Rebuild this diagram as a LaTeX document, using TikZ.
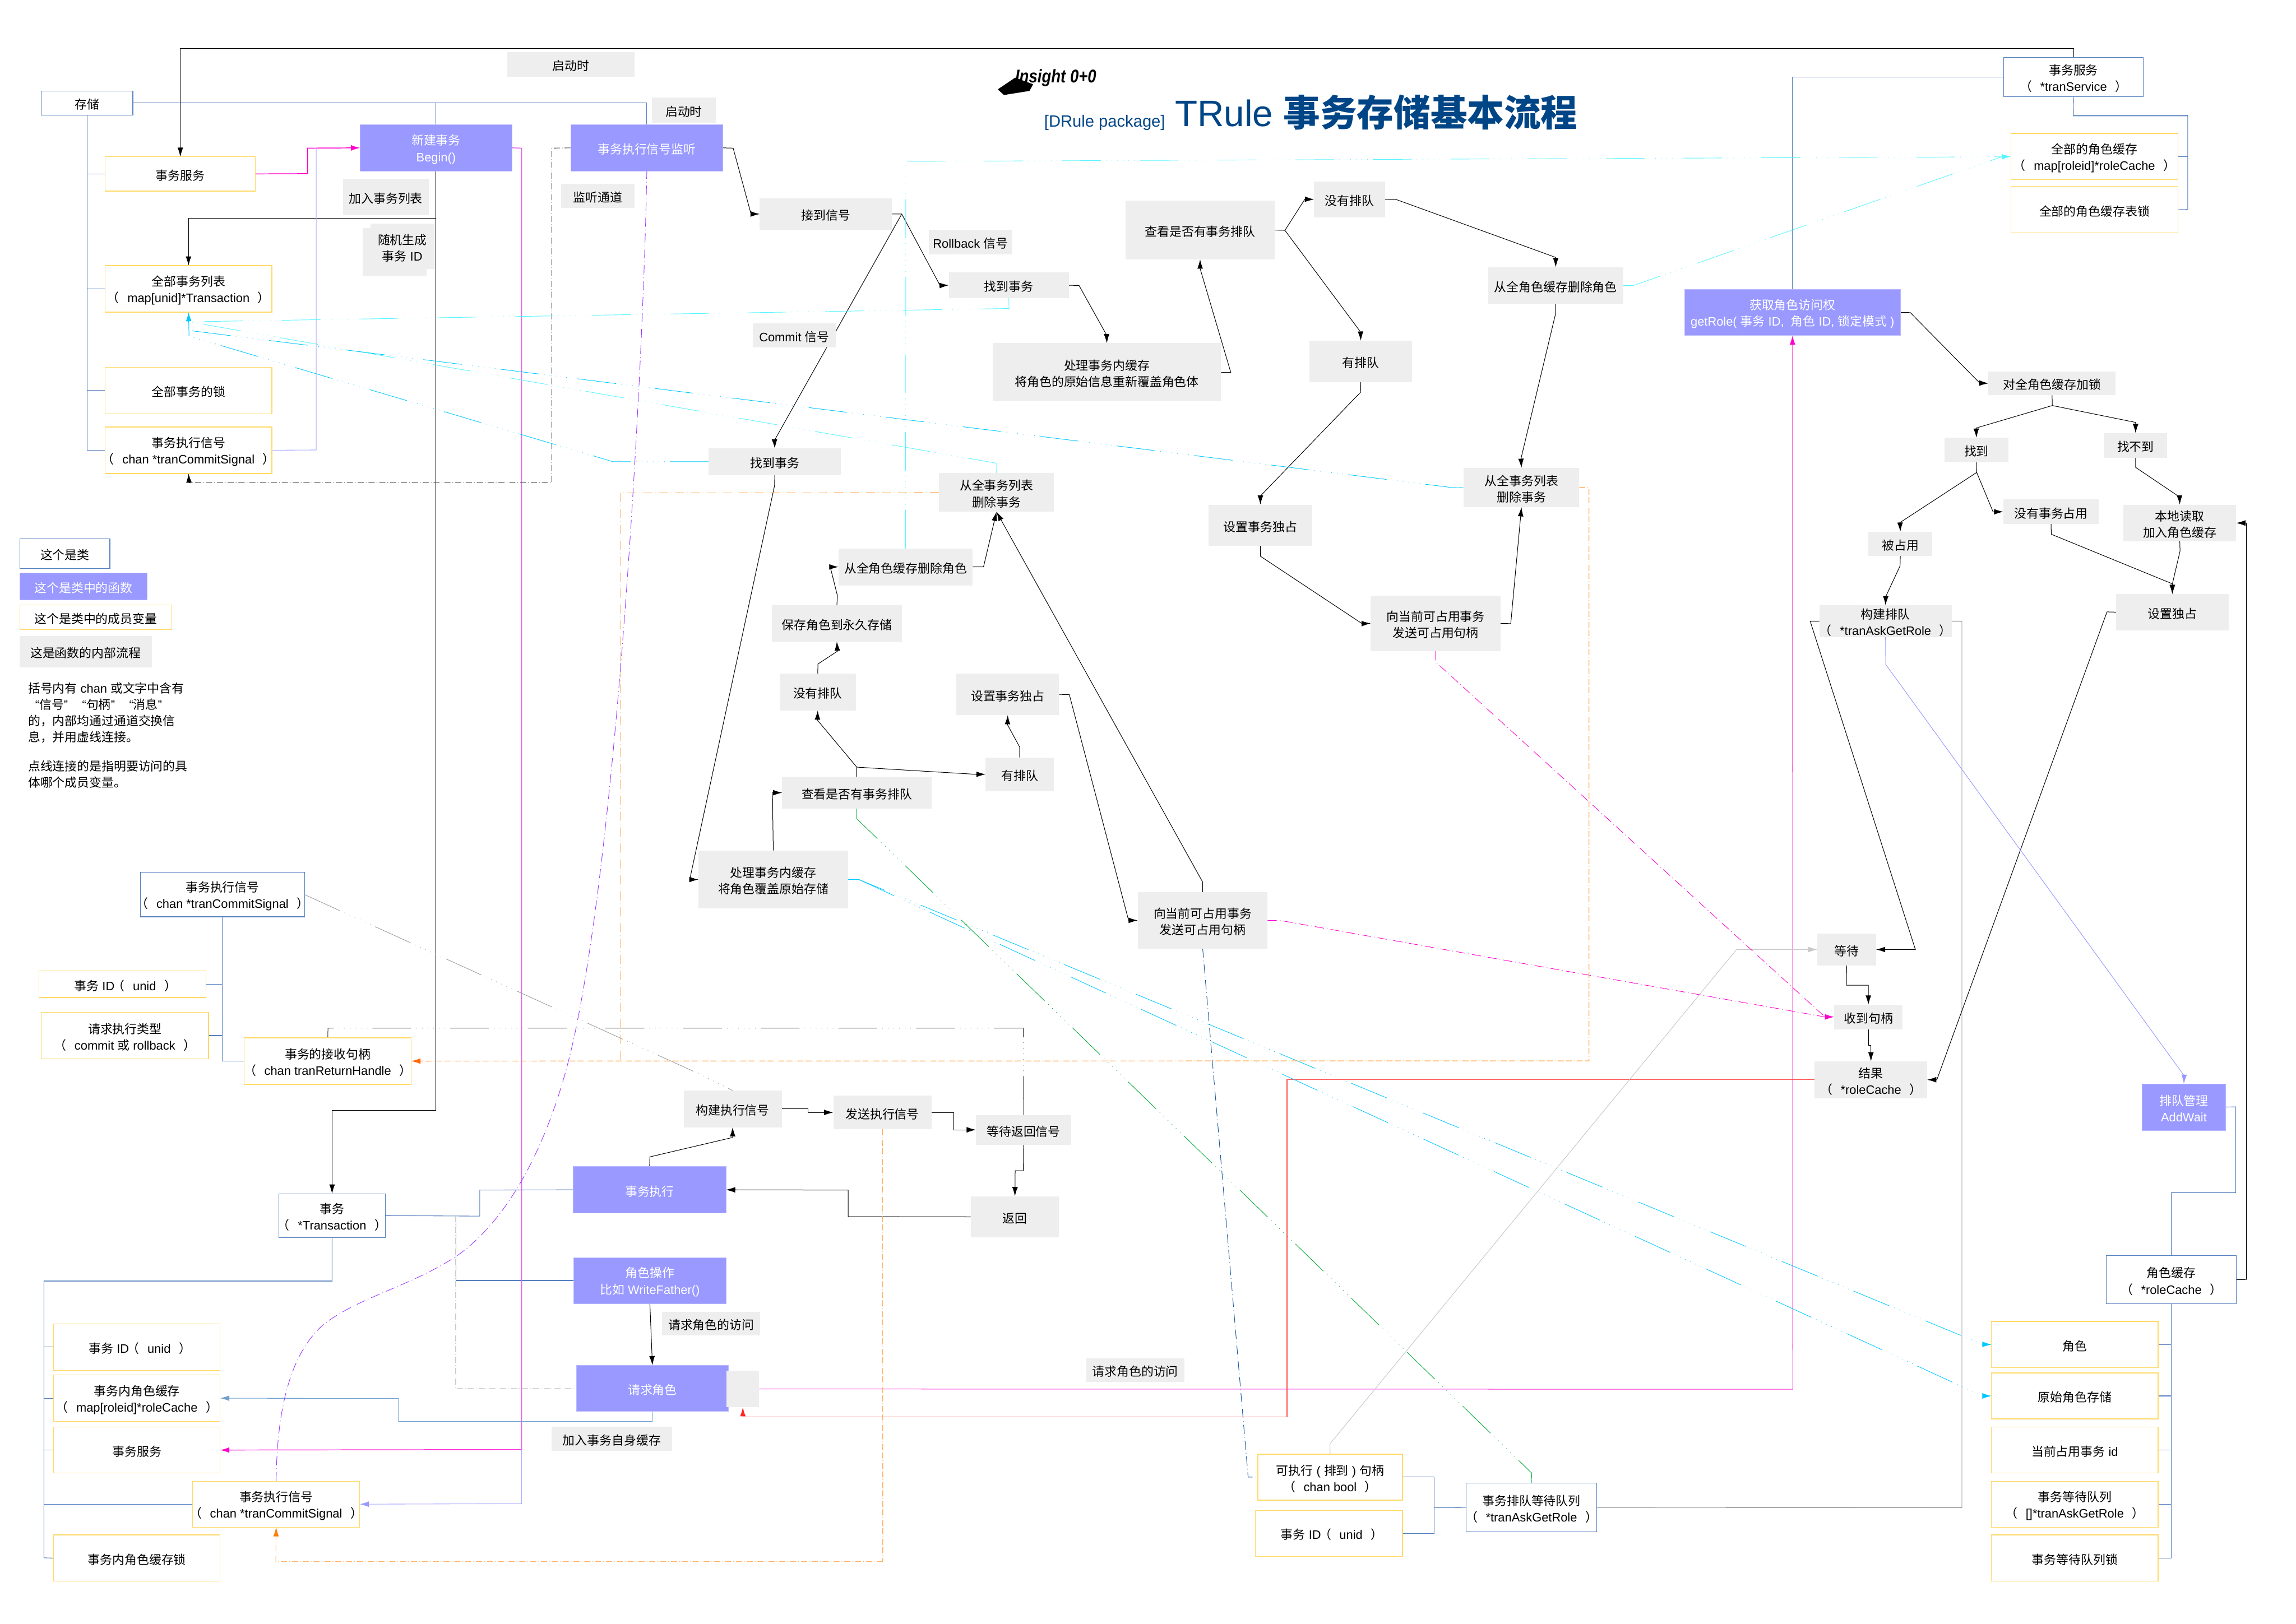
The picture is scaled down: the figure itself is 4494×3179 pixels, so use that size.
\documentclass[tikz,border=0pt]{standalone}
\usepackage{fontspec}
\usepackage{graphicx}
\setmainfont{Noto Sans CJK SC}
\newfontfamily\latf{Liberation Sans}
\usetikzlibrary{arrows.meta}
\pgfdeclarelayer{bg}
\pgfsetlayers{bg,main}
\definecolor{boxgray}{HTML}{EEEEEE}
\definecolor{ybord}{HTML}{FFD966}
\definecolor{bbord}{HTML}{5580BF}
\definecolor{pur}{HTML}{9999FF}
\definecolor{cyanL}{HTML}{55F5FF}
\definecolor{cyanB}{HTML}{00C8FF}
\definecolor{grn}{HTML}{00A933}
\definecolor{orgL}{HTML}{FFB366}
\definecolor{orgH}{HTML}{FF8000}
\definecolor{orgR}{HTML}{FF6600}
\definecolor{purc}{HTML}{9933FF}
\definecolor{pinkL}{HTML}{E060E0}
\definecolor{mag}{HTML}{FF00CC}
\definecolor{blL}{HTML}{729FCF}
\definecolor{redL}{HTML}{FF5050}
\definecolor{dkblue}{HTML}{1C5AA0}
\definecolor{titleb}{HTML}{004586}
\newcommand\ltn[1]{{\latf #1}}
\newcommand\pn[1]{\mbox{\kern-6pt（\kern8pt{\latf #1}\kern8pt）\kern-6pt}}
\newcommand\bx[7]{%
  \pgfmathsetmacro\bxCx{(#3+#5)/2}%
  \pgfmathsetmacro\bxCy{(#4+#6)/2}%
  \pgfmathsetmacro\bxW{(#5-#3)*0.5}%
  \pgfmathsetmacro\bxH{(#6-#4)*0.5}%
  \node[#1,minimum width=\bxW pt,minimum height=\bxH pt] (#2) at (\bxCx,\bxCy) {\rule{0pt}{13pt}#7};}
\tikzset{
  every node/.style={inner sep=0pt,outer sep=0pt,align=center,font=\fontsize{12}{16}\selectfont},
  gbox/.style={fill=boxgray,text=black},
  ybox/.style={draw=ybord,line width=.7pt,fill=white,text=black},
  bbox/.style={draw=bbord,line width=.6pt,fill=white,text=black},
  pbox/.style={fill=pur,draw=pur!70!white,line width=.4pt,text=white},
  conn/.style={draw=black,line width=.55pt},
  arr/.style={-{Latex[length=9pt,width=5.5pt]}},
  bl/.style={draw=bbord,line width=.6pt},
  lddot/.style={dash pattern=on 38pt off 5pt on .5pt off 5pt on .5pt off 5pt on .5pt off 5pt on .5pt off 5pt on .5pt off 5pt on .5pt off 5pt},
  sddot/.style={dash pattern=on 9pt off 3pt on .6pt off 3pt},
  gddot/.style={dash pattern=on 6pt off 2pt on .6pt off 2pt},
  oddot/.style={dash pattern=on 6pt off 2pt on .6pt off 2pt on 6pt off 2pt},
}
\begin{document}
\begin{tikzpicture}[x=.5pt,y=-.5pt]
\useasboundingbox (0,0) rectangle (4494,3179);
% ---- title
\fill[black] (1953,175) -- (1987,152) -- (2022,165) -- (2015,178) -- (1965,186) -- cycle;
\node[anchor=base west] (insight) at (1987,162) {\scalebox{.84}[1]{\fontsize{18}{18}\selectfont\latf\bfseries\itshape Insight 0+0}};
\node[anchor=base west,text=titleb] (pkg) at (2044,249) {\fontsize{16}{16}\selectfont\latf [DRule package]};
\node[anchor=base west,text=titleb] (title) at (2300,247) {\fontsize{36}{36}\selectfont{\latf TRule }{\bfseries 事务存储基本流程}};
% ---- left top
\bx{bbox}{store}{81}{178}{260}{225}{存储}
\bx{ybox}{tsvc}{206}{307}{500}{374}{事务服务}
\bx{pbox}{begin}{705}{244}{1002}{335}{新建事务\\\ltn{Begin()}}
\bx{gbox}{addlist}{671}{350}{839}{421}{加入事务列表}
\bx{gbox}{randb}{710}{446}{835}{541}{}
\bx{gbox}{rand}{725}{438}{850}{527}{随机生成\\事务\ltn{ ID}}
\bx{ybox}{alltx}{206}{520}{532}{611}{全部事务列表\\\pn{map[unid]*Transaction}}
\bx{ybox}{alllock}{206}{719}{532}{810}{全部事务的锁}
\bx{ybox}{allsig}{206}{836}{532}{927}{事务执行信号\\\pn{chan *tranCommitSignal}}
\bx{gbox}{start1}{993}{102}{1242}{150}{启动时}
\bx{gbox}{start2}{1276}{191}{1401}{240}{启动时}
\bx{pbox}{listen}{1117}{244}{1415}{335}{事务执行信号监听}
\bx{gbox}{lchan}{1098}{360}{1242}{407}{监听通道}
\bx{gbox}{recv}{1487}{388}{1746}{450}{接到信号}
\bx{gbox}{rollback}{1818}{450}{1981}{498}{\ltn{Rollback }信号}
\bx{gbox}{find1}{1857}{533}{2092}{584}{找到事务}
\bx{gbox}{commit}{1473}{633}{1636}{680}{\ltn{Commit }信号}
\bx{gbox}{find2}{1387}{878}{1646}{930}{找到事务}
\bx{gbox}{proc1}{1943}{672}{2390}{786}{处理事务内缓存\\将角色的原始信息重新覆盖角色体}
\bx{gbox}{del1}{1838}{926}{2063}{1002}{从全事务列表\\删除事务}
\bx{gbox}{chk1}{2203}{393}{2495}{508}{查看是否有事务排队}
\bx{gbox}{noq1}{2572}{355}{2711}{426}{没有排队}
\bx{gbox}{hasq1}{2563}{667}{2764}{748}{有排队}
\bx{gbox}{delrole1}{2913}{523}{3177}{595}{从全角色缓存删除角色}
\bx{gbox}{del2}{2865}{916}{3091}{993}{从全事务列表\\删除事务}
\bx{gbox}{setx1}{2366}{988}{2568}{1069}{设置事务独占}
\bx{gbox}{send1}{2683}{1166}{2937}{1275}{向当前可占用事务\\发送可占用句柄}
\bx{gbox}{delrole2}{1641}{1074}{1904}{1146}{从全角色缓存删除角色}
\bx{gbox}{save}{1511}{1185}{1765}{1256}{保存角色到永久存储}
\bx{gbox}{noq2}{1526}{1319}{1675}{1391}{没有排队}
\bx{gbox}{setx2}{1872}{1319}{2073}{1400}{设置事务独占}
\bx{gbox}{hasq2}{1929}{1483}{2063}{1549}{有排队}
\bx{gbox}{chk2}{1531}{1521}{1823}{1583}{查看是否有事务排队}
\bx{gbox}{proc2}{1367}{1665}{1660}{1779}{处理事务内缓存\\将角色覆盖原始存储}
\bx{gbox}{send2}{2227}{1747}{2481}{1857}{向当前可占用事务\\发送可占用句柄}
% ---- right
\bx{bbox}{tsvcB}{3922}{112}{4195}{189}{事务服务\\\pn{*tranService}}
\bx{ybox}{rcall}{3936}{261}{4263}{352}{全部的角色缓存\\\pn{map[roleid]*roleCache}}
\bx{ybox}{rclock}{3936}{365}{4263}{456}{全部的角色缓存表锁}
\bx{pbox}{getrole}{3297}{566}{3720}{657}{获取角色访问权\\\ltn{getRole( }事务\ltn{ ID,\ \ }角色\ltn{ ID, }锁定模式\ltn{ )}}
\bx{gbox}{lock}{3892}{727}{4141}{774}{对全角色缓存加锁}
\bx{gbox}{found}{3806}{857}{3931}{905}{找到}
\bx{gbox}{nofound}{4118}{848}{4242}{896}{找不到}
\bx{gbox}{nouse}{3921}{978}{4108}{1026}{没有事务占用}
\bx{gbox}{load}{4156}{988}{4377}{1060}{本地读取\\加入角色缓存}
\bx{gbox}{occ}{3657}{1041}{3782}{1088}{被占用}
\bx{gbox}{bq}{3561}{1185}{3820}{1247}{构建排队\\\pn{*tranAskGetRole}}
\bx{gbox}{setx3}{4142}{1163}{4362}{1234}{设置独占}
\bx{gbox}{wait}{3557}{1828}{3672}{1890}{等待}
\bx{gbox}{got}{3590}{1967}{3724}{2015}{收到句柄}
\bx{gbox}{result}{3552}{2078}{3772}{2150}{结果\\\pn{*roleCache}}
\bx{pbox}{addwait}{4193}{2122}{4356}{2213}{排队管理\\\ltn{AddWait}}
\bx{bbox}{rolecache}{4123}{2458}{4377}{2553}{角色缓存\\\pn{*roleCache}}
\bx{ybox}{roleY}{3898}{2587}{4224}{2678}{角色}
\bx{ybox}{orig}{3898}{2688}{4224}{2778}{原始角色存储}
\bx{ybox}{curr}{3898}{2794}{4224}{2884}{当前占用事务\ltn{ id}}
\bx{ybox}{waitq}{3898}{2900}{4224}{2990}{事务等待队列\\\pn{[]*tranAskGetRole}}
\bx{ybox}{waitlock}{3898}{3005}{4224}{3096}{事务等待队列锁}
% ---- legend
\bx{bbox}{l1}{39}{1055}{215}{1113}{这个是类}
\bx{pbox}{l2}{39}{1122}{288}{1174}{这个是类中的函数}
\bx{ybox}{l3}{39}{1184}{336}{1233}{这个是类中的成员变量}
\bx{gbox}{l4}{38}{1245}{297}{1307}{这是函数的内部流程}
\node[anchor=north west,align=left] (para1) at (55,1336) {括号内有\ltn{ chan }或文字中含有\\\hspace*{7pt}\ltn{“}信号\ltn{”}\hspace{14pt}\ltn{“}句柄\ltn{”}\hspace{14pt}\ltn{“}消息\ltn{”}\\的，内部均通过通道交换信\\息，并用虚线连接。};
\node[anchor=north west,align=left] (para2) at (55,1489) {点线连接的是指明要访问的具\\体哪个成员变量。};
% ---- bottom left
\bx{bbox}{txsig}{275}{1708}{596}{1795}{事务执行信号\\\pn{chan *tranCommitSignal}}
\bx{ybox}{txid}{76}{1901}{403}{1953}{事务\ltn{ ID}\kern4pt\pn{unid}}
\bx{ybox}{reqtype}{81}{1982}{408}{2073}{请求执行类型\\\mbox{\kern-6pt（\kern8pt\ltn{commit }或\ltn{ rollback}\kern8pt）\kern-6pt}}
\bx{ybox}{recvh}{478}{2032}{805}{2123}{事务的接收句柄\\\pn{chan tranReturnHandle}}
\bx{bbox}{tx}{546}{2337}{754}{2423}{事务\\\pn{*Transaction}}
\bx{ybox}{txidB}{105}{2592}{431}{2683}{事务\ltn{ ID}\kern4pt\pn{unid}}
\bx{ybox}{txcache}{105}{2692}{431}{2783}{事务内角色缓存\\\pn{map[roleid]*roleCache}}
\bx{ybox}{txsvc}{105}{2794}{431}{2884}{事务服务}
\bx{ybox}{txsigB}{377}{2900}{704}{2990}{事务执行信号\\\pn{chan *tranCommitSignal}}
\bx{ybox}{txlock}{105}{3005}{431}{3096}{事务内角色缓存锁}
\bx{gbox}{bsig}{1338}{2135}{1530}{2207}{构建执行信号}
\bx{gbox}{ssig}{1631}{2145}{1823}{2211}{发送执行信号}
\bx{gbox}{waitret}{1910}{2183}{2097}{2241}{等待返回信号}
\bx{pbox}{exec}{1122}{2284}{1421}{2375}{事务执行}
\bx{gbox}{ret}{1900}{2342}{2073}{2423}{返回}
\bx{pbox}{roleop}{1123}{2462}{1421}{2552}{角色操作\\比如\ltn{ WriteFather()}}
\bx{gbox}{reqacc}{1296}{2568}{1488}{2615}{请求角色的访问}
\bx{pbox}{reqrole}{1128}{2673}{1426}{2763}{请求角色}
\bx{gbox}{gsq}{1422}{2684}{1486}{2755}{}
\bx{gbox}{addself}{1080}{2793}{1315}{2841}{加入事务自身缓存}
\bx{gbox}{reqacc2}{2126}{2659}{2318}{2706}{请求角色的访问}
\bx{ybox}{canrun}{2462}{2847}{2745}{2937}{可执行\ltn{ ( }排到\ltn{ ) }句柄\\\pn{chan bool}}
\bx{ybox}{qid}{2457}{2957}{2745}{3047}{事务\ltn{ ID}\kern4pt\pn{unid}}
\bx{bbox}{queue}{2870}{2904}{3125}{2999}{事务排队等待队列\\\pn{*tranAskGetRole}}
% ======== connectors
\begin{pgfonlayer}{bg}
% blue structure
\draw[bl] (store.east) -- (store.east -| listen.north) -- (listen.north);
\draw[bl] (begin.north) -- (begin.north |- store.east);
\draw[bl] (store.south) -- (store.south |- allsig.west) -- (allsig.west);
\draw[bl] (tsvc.west) -- (tsvc.west -| store.south);
\draw[bl] (alltx.west) -- (alltx.west -| store.south);
\draw[bl] (alllock.west) -- (alllock.west -| store.south);
\draw[bl] (txsig.south) -- (txsig.south |- recvh.west) -- (recvh.west);
\draw[bl] (txid.east) -- (txid.east -| txsig.south);
\draw[bl] (reqtype.east) -- (reqtype.east -| txsig.south);
\draw[bl] (tx.east) -- (939,2381) -- (939,2330) -- (exec.west);
\draw[bl] (893,2381) -- (893,2507) -- (roleop.west);
\draw[bl] (tx.south) -- (tx.south |- 0,2509) -- (86,2509) -- (86,3050) -- (txlock.west);
\draw[bl] (tx.south |- 0,2506) -- (86,2506) -- (86,2509);
\draw[bl] (txidB.west) -- (txidB.west -| 86,0);
\draw[bl] (txcache.west) -- (txcache.west -| 86,0);
\draw[bl] (txsvc.west) -- (txsvc.west -| 86,0);
\draw[bl] (txsigB.west) -- (txsigB.west -| 86,0);
\draw[bl] (tsvcB.south) -- (4058,227) -- (4282,227) -- (4282,410) -- (rclock.east);
\draw[bl] (4058,225) -- (4282,225) -- (4282,227);
\draw[bl] (rcall.east) -- (rcall.east -| 4282,0);
\draw[bl] (tsvcB.west) -- (getrole.north |- tsvcB.west) -- (getrole.north);
\draw[bl] (addwait.east) -- (4376,2167) -- (4376,2335) -- (4250,2335) -- (rolecache.north);
\draw[bl] (rolecache.south) -- (rolecache.south |- waitlock.east) -- (waitlock.east);
\draw[bl] (roleY.east) -- (roleY.east -| rolecache.south);
\draw[bl] (orig.east) -- (orig.east -| rolecache.south);
\draw[bl] (curr.east) -- (curr.east -| rolecache.south);
\draw[bl] (waitq.east) -- (waitq.east -| rolecache.south);
\draw[bl] (canrun.east) -- (2807,2892) -- (2807,3002) -- (qid.east);
\draw[bl] (2807,2952) -- (queue.west);
% gray structure
\draw[draw=gray,line width=.5pt] (queue.east) -- (3840,2952) -- (3840,1216) -- (bq.east);
% black flow
\draw[conn,arr] (tsvcB.north) -- (tsvcB.north |- 0,95) -- (tsvc.north |- 0,95) -- (tsvc.north);
\draw[conn,arr] (begin.south) -- (begin.south |- 0,2174) -- (tx.north |- 0,2174) -- (tx.north);
\draw[conn,arr] (begin.south |- 0,427) -- (alltx.north |- 0,427) -- (alltx.north);
\draw[conn,arr] (listen.east) -- (1435,290) -- (1470,419) -- (recv.west);
\draw[conn,arr] (recv.east) -- (1765,419) -- (1840,559) -- (find1.west);
\draw[conn,arr] (1765,419) -- (1516,862) -- (find2.north);
\draw[conn,arr] (find2.south) -- (1516,951) -- (1350,1722) -- (proc2.west);
\draw[conn,arr] (find1.east) -- (2112,559) -- (2166,656) -- (proc1.north);
\draw[conn,arr] (proc1.east) -- (2409,729) -- (2349,526) -- (chk1.south);
\draw[conn,arr] (chk1.east) -- (2515,451) -- (2554,390) -- (noq1.west);
\draw[conn,arr] (2515,451) -- (2663,650) -- (hasq1.north);
\draw[conn,arr] (noq1.east) -- (2731,390) -- (3045,504) -- (delrole1.north);
\draw[conn,arr] (delrole1.south) -- (3045,613) -- (2977,898) -- (del2.north);
\draw[conn,arr] (hasq1.south) -- (2663,768) -- (2467,971) -- (setx1.north);
\draw[conn,arr] (setx1.south) -- (2467,1089) -- (2666,1221) -- (send1.west);
\draw[conn,arr] (send1.east) -- (2957,1221) -- (del2.south);
\draw[conn,arr] (send2.north) -- (2354,1727) -- (del1.south);
\draw[conn,arr] (delrole2.east) -- (1925,1110) -- (del1.south);
\draw[conn,arr] (save.north) -- (1639,1166) -- (1625,1110) -- (delrole2.west);
\draw[conn,arr] (noq2.north) -- (1601,1300) -- (1639,1275) -- (save.south);
\draw[conn,arr] (chk2.north) -- (1677,1502) -- (1600,1410) -- (noq2.south);
\draw[conn,arr] (1677,1502) -- (1910,1516) -- (hasq2.west);
\draw[conn,arr] (hasq2.north) -- (1996,1463) -- (1972,1419) -- (setx2.south);
\draw[conn,arr] (setx2.east) -- (2093,1360) -- (2209,1802) -- (send2.west);
\draw[conn,arr] (proc2.north) -- (1512,1552) -- (chk2.west);
\draw[conn,arr] (getrole.east) -- (3739,612) -- (3875,750) -- (lock.west);
\draw[conn,arr] (lock.south) -- (4017,794) -- (3868,838) -- (found.north);
\draw[conn,arr] (4017,794) -- (4180,827) -- (nofound.north);
\draw[conn,arr] (found.south) -- (3869,925) -- (3719,1023) -- (occ.north);
\draw[conn,arr] (3869,925) -- (3901,1002) -- (nouse.west);
\draw[conn,arr] (nofound.south) -- (4180,915) -- (4266,973) -- (load.north);
\draw[conn,arr] (occ.south) -- (3719,1108) -- (3691,1168) -- (bq.south |- 0,1185);
\draw[conn,arr] (nouse.south) -- (4015,1046) -- (4252,1143) -- (setx3.north);
\draw[conn,arr] (load.south) -- (4267,1079) -- (4252,1143) -- (setx3.north);
\draw[conn,arr] (setx3.west) -- (4124,1198) -- (3791,2114) -- (result.east);
\draw[conn,arr] (bq.west) -- (3543,1216) -- (3749,1859) -- (wait.east);
\draw[conn,arr] (wait.south) -- (3614,1929) -- (3657,1929) -- (got.north);
\draw[conn,arr] (got.south) -- (3657,2047) -- (3662,2047) -- (result.north);
\draw[conn,arr] (rolecache.east) -- (4397,2505) -- (4397,1024) -- (load.east);
\draw[conn,arr] (bsig.east) -- (1582,2171) -- (1582,2178) -- (ssig.west);
\draw[conn,arr] (ssig.east) -- (1867,2178) -- (1867,2212) -- (waitret.west);
\draw[conn,arr] (waitret.south) -- (2003,2292) -- (1987,2292) -- (ret.north);
\draw[conn,arr] (ret.west) -- (1660,2382) -- (1660,2330) -- (exec.east);
\draw[conn,arr] (exec.north) -- (1272,2265) -- (1434,2227) -- (bsig.south);
\draw[conn,arr] (roleop.south) -- (reqrole.north);
% pink / purple
\draw[draw=mag,line width=.8pt,-{Latex[length=9pt,width=5.5pt]}] (tsvc.east) -- (602,340) -- (602,290) -- (begin.west);
\draw[draw=pur!80!white,line width=.6pt] (allsig.east) -- (619,881) -- (619,290);
\draw[draw=pinkL,line width=.8pt] (begin.east) -- (1021,290) -- (1021,2838);
\draw[draw=mag!80!white,line width=.8pt,-{Latex[length=9pt,width=5.5pt,color=mag]}] (1021,2838) -- (txsvc.east);
\draw[draw=pur!80!white,line width=.6pt,-{Latex[length=9pt,width=5.5pt,color=pur]}] (1021,2838) -- (1021,2944) -- (txsigB.east);
\draw[draw=mag!85!white,line width=.55pt,-{Latex[length=9pt,width=5.5pt,color=mag]}] (gsq.east) -- (3509,2720) -- (getrole.south);
\draw[draw=redL,line width=.7pt,-{Latex[length=9pt,width=5.5pt,color=red!85!white]}] (result.west) -- (2519,2114) -- (2519,2774) -- (1454,2774) -- (gsq.south);
\draw[draw=pur,line width=.55pt,arr] (bq.south) -- (3691,1301) -- (4275,2106) -- (addwait.north);
\draw[draw=blL,line width=.6pt,-{Latex[length=9pt,width=5.5pt]}] (reqrole.south) -- (1277,2783) -- (780,2783) -- (780,2738) -- (txcache.east);
% gray dash-dot
\draw[draw=black!65,line width=.6pt,gddot] (listen.west) -- (1080,290) -- (1080,945) -- (370,945);
\draw[conn,arr] (370,945) -- (allsig.south);
\draw[draw=black!80,line width=.55pt,lddot] (waitret.north) -- (2003,2013) -- (642,2013) -- (recvh.north);
\draw[draw=black!20,line width=.7pt,gddot] (892,2381) -- (892,2718) -- (reqrole.west);
\draw[draw=black!40,line width=.5pt,lddot] (txsig.east) -- (1363,2100) -- (bsig.north);
% cyan
\draw[draw=cyanL,line width=.5pt,lddot,arr] (delrole2.north) -- (1773,316) -- (3918,307) -- (rcall.west);
\draw[draw=cyanL,line width=.5pt,lddot] (delrole1.east) -- (3197,559) -- (3918,307);
\draw[draw=cyanL,line width=.5pt,lddot] (find1.south) -- (1975,604) -- (370,630);
\draw[draw=cyanL,line width=.5pt,lddot] (del1.north) -- (1951,907) -- (370,630);
\draw[draw=cyanB,line width=.5pt,lddot] (del2.west) -- (2845,955) -- (370,647);
\draw[draw=cyanB,line width=.5pt,lddot] (find2.west) -- (1200,904) -- (370,658);
\draw[draw=cyanB,line width=.55pt,arr] (370,658) -- (alltx.south);
\draw[draw=cyanB,line width=.5pt,lddot,arr] (proc2.east) -- (1681,1722) -- (3880,2632) -- (roleY.west);
\draw[draw=cyanB,line width=.5pt,lddot,arr] (1681,1722) -- (3880,2733) -- (orig.west);
% green
\draw[draw=grn,line width=.5pt,lddot] (chk2.south) -- (1677,1603) -- (2998,2884) -- (queue.north);
% dark blue
\draw[draw=dkblue,line width=.55pt,sddot] (send2.south) -- (2443,2892) -- (canrun.west);
% light gray
\draw[draw=black!22,line width=.55pt,-{Latex[length=9pt,width=5.5pt]}] (canrun.north) -- (2603,2827) -- (3399,1859) -- (wait.west);
% pink dash-dot
\draw[draw=mag,line width=.5pt,sddot,arr] (send1.south) -- (2810,1296) -- (3572,1991) -- (got.west);
\draw[draw=mag,line width=.5pt,sddot] (send2.east) -- (2505,1802) -- (3572,1991);
% orange
\draw[draw=orgL,line width=.8pt,oddot,-{Latex[length=9pt,width=5.5pt,color=orgR]}] (del2.east) -- (3110,955) -- (3110,2077) -- (recvh.east);
\draw[draw=orgL,line width=.5pt,sddot] (del1.west) -- (1214,965) -- (1214,2077);
\draw[draw=orgL,line width=.8pt,oddot] (ssig.south) -- (1728,3057);
\draw[draw=orgL,line width=.55pt,gddot,-{Latex[length=9pt,width=5.5pt,color=orgH]}] (1728,3057) -- (540,3057) -- (txsigB.south);
% purple curve
\draw[draw=purc,line width=.5pt,sddot] (txsigB.north) .. controls (542,2780) and (560,2660) .. (631,2595) .. controls (700,2540) and (800,2520) .. (891,2461) .. controls (1010,2380) and (1090,2200) .. (1128,2010) .. controls (1212,1600) and (1260,700) .. (listen.south);
\end{pgfonlayer}
\end{tikzpicture}
\end{document}
